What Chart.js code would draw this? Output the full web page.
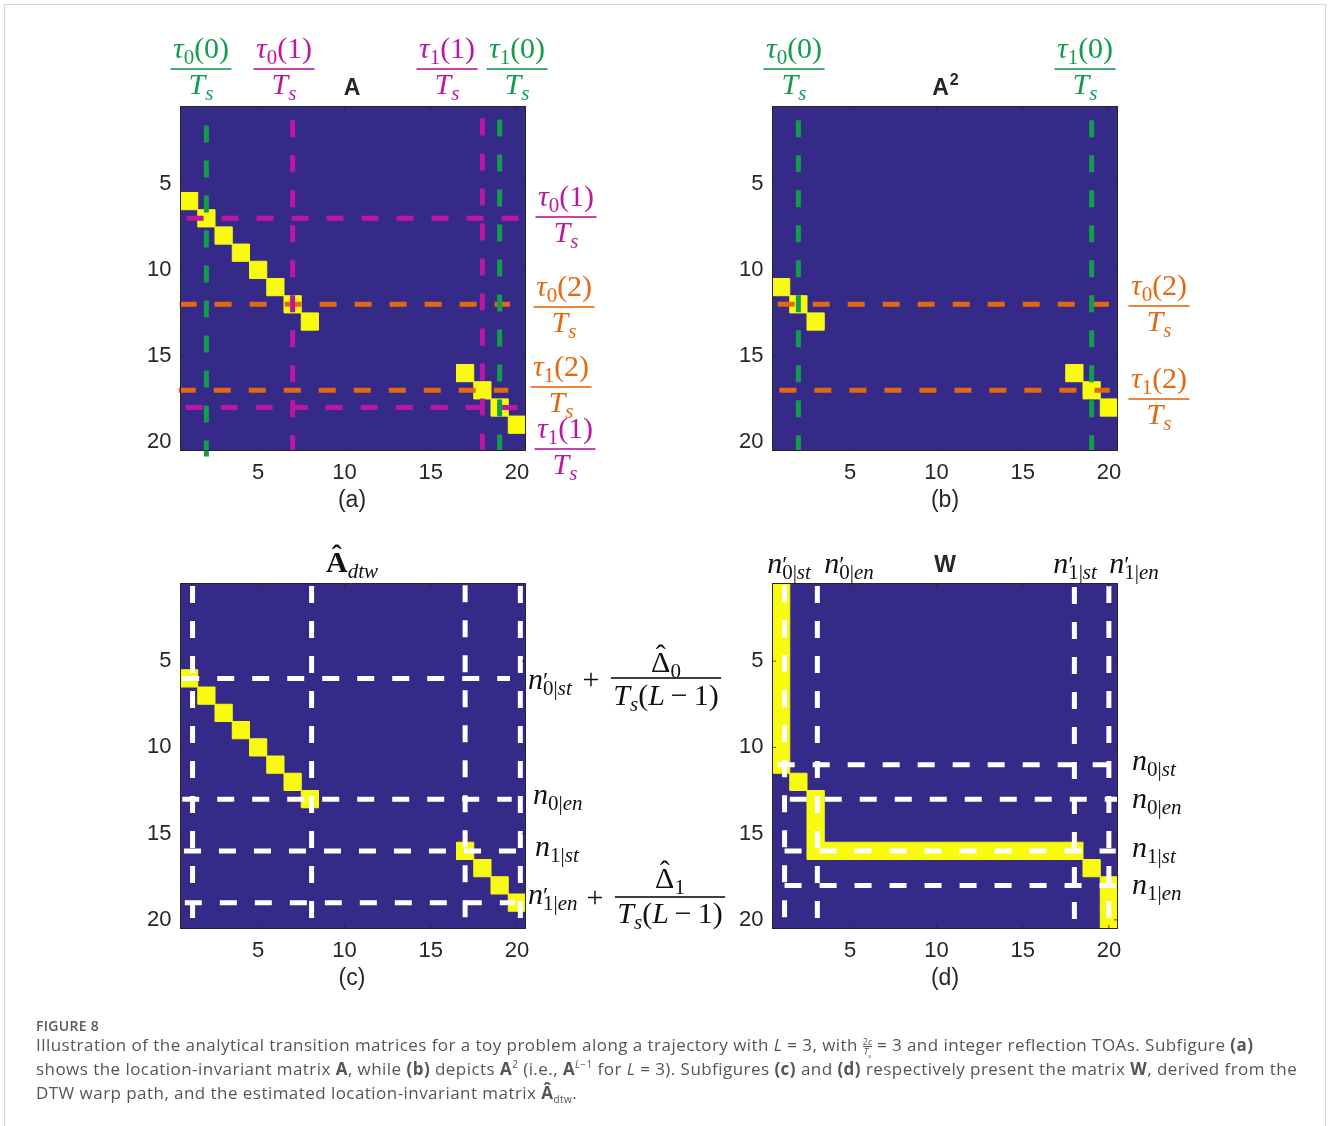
<!DOCTYPE html>
<html>
<head>
<meta charset="utf-8">
<script src="https://cdn.jsdelivr.net/npm/chart.js@4.4.1/dist/chart.umd.min.js"></script>
<style>
html, body { margin: 0; padding: 0; background: #fff; }
#page { position: relative; width: 1328px; height: 1126px; overflow: hidden; background: #fff; }
#frame { position: absolute; left: 4px; top: 4px; width: 1320px; height: 1140px; border: 1.5px solid #d4d4d4; }
#page canvas { position: absolute; left: 0; top: 0; pointer-events: none; }
#caption { position: absolute; left: 36px; top: 0; font-family: "Open Sans", "Noto Sans", sans-serif; color: #555; white-space: nowrap; }
#caption .fig { position: absolute; top: 1016px; font-size: 14px; font-weight: 600; letter-spacing: 0.3px; color: #5a5a5a; }
#caption .ln { position: absolute; font-size: 17px; line-height: 24px; height: 24px; letter-spacing: 0.45px; }
#caption b { font-weight: 700; }
#caption sup, #caption sub { font-size: 10px; line-height: 0; }
#caption .tf { display: inline-block; vertical-align: middle; font-size: 9px; line-height: 9px; text-align: center; letter-spacing: 0; }
#caption .tf span { display: block; }
#caption .tf span:first-child { border-bottom: 1px solid #555; }
</style>
</head>
<body>
<div id="page">
  <div id="frame"></div>
  <canvas id="chartA" width="1328" height="1126"></canvas>
  <canvas id="chartB" width="1328" height="1126"></canvas>
  <canvas id="chartC" width="1328" height="1126"></canvas>
  <canvas id="chartD" width="1328" height="1126"></canvas>
  <div id="caption">
    <div class="fig">FIGURE 8</div>
    <div class="ln" style="top:1033px">Illustration of the analytical transition matrices for a toy problem along a trajectory with <i>L</i> = 3, with <span class="tf"><span>2<i>c</i></span><span><i>T</i><sub style="font-size:6px">s</sub></span></span> = 3 and integer reflection TOAs. Subfigure <b>(a)</b></div>
    <div class="ln" style="top:1057px">shows the location-invariant matrix <b>A</b>, while <b>(b)</b> depicts <b>A</b><sup>2</sup> (i.e., <b>A</b><sup><i>L</i>−1</sup> for <i>L</i> = 3). Subfigures <b>(c)</b> and <b>(d)</b> respectively present the matrix <b>W</b>, derived from the</div>
    <div class="ln" style="top:1081px">DTW warp path, and the estimated location-invariant matrix <b>Â</b><sub>dtw</sub>.</div>
  </div>
</div>
<script>
"use strict"

const tickValues = [5, 10, 15, 20];
const axisMin = 0.5;
const axisMax = 20.5;

// yellow (value 1) cells as [column, row]
const cellsA = [[1, 6], [2, 7], [3, 8], [4, 9], [5, 10], [6, 11], [7, 12], [8, 13],
    [17, 16], [18, 17], [19, 18], [20, 19]];
const cellsA2 = [[1, 11], [2, 12], [3, 13], [18, 16], [19, 17], [20, 18]];
const cellsAdtw = [[1, 6], [2, 7], [3, 8], [4, 9], [5, 10], [6, 11], [7, 12], [8, 13],
    [17, 16], [18, 17], [19, 18], [20, 19]];
const cellsW = [[1, 1], [1, 2], [1, 3], [1, 4], [1, 5], [1, 6], [1, 7], [1, 8], [1, 9], [1, 10], [1, 11],
    [2, 12], [3, 13], [3, 14], [3, 15], [3, 16],
    [4, 16], [5, 16], [6, 16], [7, 16], [8, 16], [9, 16], [10, 16], [11, 16], [12, 16], [13, 16],
    [14, 16], [15, 16], [16, 16], [17, 16], [18, 16], [19, 17], [20, 18], [20, 19], [20, 20]];

// reflection TOAs in samples, tau_k(l) / Ts for l = 0, 1, 2
const tau0 = [2, 7, 12];
const tau1 = [19, 18, 17];

// DTW markers
const dtwCols = [1.2, 8.1, 17, 20.2];
const dtwRows = [6, 13, 16, 19];
const warpCols = [1.2, 3.1, 18, 20];   // n'0|st, n'0|en, n'1|st, n'1|en
const warpRows = [11, 13, 16, 18];     // n0|st, n0|en, n1|st, n1|en

const NAVY = "#352a87";
const YELLOW = "#f9fb0e";
const GREEN = "#139c4d";
const MAGENTA = "#bb189f";
const ORANGE = "#e5680f";
const WHITE = "#ffffff";
const INK = "#262626";

const SERIF = '"Liberation Serif", "DejaVu Serif", serif';
const SANS = '"Liberation Sans", Arial, sans-serif';
const MS = 30;

// ---------- tiny math typesetter ----------
const isItalic = ch => /[A-Za-zα-ω]/.test(ch);
const mathFont = (ch, size, bold) =>
    `${!bold && isItalic(ch) ? "italic " : ""}${bold ? "bold " : ""}${size}px ${SERIF}`;

function parseMath(src) {
    const atoms = [];
    let i = 0, hat = false, bold = false;
    const group = () => {
        if (src[i] === "{") {
            const j = src.indexOf("}", i);
            const g = src.slice(i + 1, j);
            i = j + 1;
            return g;
        }
        return src[i++];
    };
    while (i < src.length) {
        const c = src[i];
        if (c === " ") { i++; continue; }
        if (c === "^") { hat = true; i++; continue; }
        if (c === "!") { bold = true; i++; continue; }
        if (c === "_") { i++; atoms[atoms.length - 1].sub = group(); continue; }
        if (c === "'") { i++; atoms[atoms.length - 1].prime = true; continue; }
        atoms.push({ base: c, hat: hat, bold: bold });
        hat = false;
        bold = false;
        i++;
    }
    return atoms;
}

function layoutMath(ctx, src, size) {
    const atoms = parseMath(src);
    let x = 0;
    atoms.forEach(a => {
        const op = a.base === "+" || a.base === "−";
        if (op) x += size * 0.2;
        ctx.font = mathFont(a.base, size, a.bold);
        a.x = x;
        a.w = ctx.measureText(a.base).width;
        x += a.w;
        let extra = 0;
        if (a.prime) {
            ctx.font = `${size * 0.8}px ${SERIF}`;
            extra = ctx.measureText("′").width;
        }
        if (a.sub) {
            let sw = 0;
            for (const ch of a.sub) {
                ctx.font = mathFont(ch, size * 0.7, false);
                sw += ctx.measureText(ch).width;
            }
            extra = Math.max(extra, sw);
        }
        x += extra;
        if (op) x += size * 0.2;
    });
    return { atoms: atoms, width: x };
}

function drawMath(ctx, src, x, y, size, color, align) {
    const m = layoutMath(ctx, src, size);
    const x0 = align === "center" ? x - m.width / 2 : align === "right" ? x - m.width : x;
    ctx.fillStyle = color;
    ctx.textBaseline = "alphabetic";
    m.atoms.forEach(a => {
        ctx.textAlign = "left";
        ctx.font = mathFont(a.base, size, a.bold);
        ctx.fillText(a.base, x0 + a.x, y);
        if (a.hat) {
            ctx.textAlign = "center";
            ctx.font = `${a.bold ? "bold " : ""}${size}px ${SERIF}`;
            ctx.fillText("ˆ", x0 + a.x + a.w / 2, y - size * 0.22);
            ctx.textAlign = "left";
        }
        const ex = x0 + a.x + a.w;
        if (a.prime) {
            ctx.font = `${size * 0.8}px ${SERIF}`;
            ctx.fillText("′", ex, y - size * 0.05);
        }
        if (a.sub) {
            let sx = ex;
            for (const ch of a.sub) {
                ctx.font = mathFont(ch, size * 0.7, false);
                ctx.fillText(ch, sx, y + size * 0.2);
                sx += ctx.measureText(ch).width;
            }
        }
    });
}

function drawFrac(ctx, item) {
    const size = item.size || MS;
    const wn = layoutMath(ctx, item.num, size).width;
    const wd = layoutMath(ctx, item.den, size).width;
    const w = Math.max(wn, wd) + size * 0.16;
    ctx.fillStyle = item.color;
    ctx.fillRect(item.x - w / 2, item.y - 0.8, w, 1.6);
    drawMath(ctx, item.num, item.x, item.y - (item.numDy || size * 0.38), size, item.color, "center");
    drawMath(ctx, item.den, item.x, item.y + (item.denDy || size * 0.84), size, item.color, "center");
}

function drawSans(ctx, item) {
    ctx.fillStyle = item.color || INK;
    ctx.textBaseline = "alphabetic";
    ctx.font = `${item.bold ? "bold " : ""}${item.size}px ${SANS}`;
    const w = ctx.measureText(item.text).width;
    let sw = 0;
    if (item.sup) {
        ctx.font = `bold ${item.size * 0.7}px ${SANS}`;
        sw = ctx.measureText(item.sup).width;
    }
    const x0 = item.x - (w + sw) / 2;
    ctx.textAlign = "left";
    ctx.font = `${item.bold ? "bold " : ""}${item.size}px ${SANS}`;
    ctx.fillText(item.text, x0, item.y);
    if (item.sup) {
        ctx.font = `bold ${item.size * 0.7}px ${SANS}`;
        ctx.fillText(item.sup, x0 + w + 1, item.y - item.size * 0.45);
    }
}

function drawLabel(ctx, item) {
    if (item.kind === "frac") drawFrac(ctx, item);
    else if (item.kind === "sans") drawSans(ctx, item);
    else drawMath(ctx, item.src, item.x, item.y, item.size || MS, item.color || "#111", item.align || "left");
}

// ---------- panel ----------
const decoPlugin = labels => ({
    id: "panelDeco",
    beforeDatasetsDraw(chart) {
        const a = chart.chartArea;
        const ctx = chart.ctx;
        ctx.save();
        ctx.fillStyle = NAVY;
        ctx.fillRect(a.left, a.top, a.right - a.left, a.bottom - a.top);
        ctx.restore();
    },
    afterDatasetsDraw(chart) {
        const a = chart.chartArea;
        const ctx = chart.ctx;
        const sx = chart.scales.x, sy = chart.scales.y;
        ctx.save();
        ctx.strokeStyle = INK;
        ctx.lineWidth = 0.8;
        ctx.beginPath();
        tickValues.forEach(v => {
            const px = sx.getPixelForValue(v), py = sy.getPixelForValue(v);
            ctx.moveTo(px, a.bottom); ctx.lineTo(px, a.bottom - 3.5);
            ctx.moveTo(px, a.top); ctx.lineTo(px, a.top + 3.5);
            ctx.moveTo(a.left, py); ctx.lineTo(a.left + 3.5, py);
            ctx.moveTo(a.right, py); ctx.lineTo(a.right - 3.5, py);
        });
        ctx.stroke();
        ctx.lineWidth = 1;
        ctx.strokeRect(a.left, a.top, a.right - a.left, a.bottom - a.top);
        ctx.restore();
    },
    afterDraw(chart) {
        const ctx = chart.ctx;
        ctx.save();
        labels.forEach(item => drawLabel(ctx, item));
        ctx.restore();
    }
});

const Y_AXIS_W = 60;
const X_AXIS_H = 50;

function cellRadius(ctx) {
    const sx = ctx.chart.scales.x;
    return Math.abs(sx.getPixelForValue(1) - sx.getPixelForValue(0)) / Math.SQRT2;
}

function makePanel(id, area, cells, guides, labels) {
    const datasets = guides.map(g => ({
        data: g.v
            ? [{ x: g.at, y: g.from }, { x: g.at, y: g.to }]
            : [{ x: g.from, y: g.at }, { x: g.to, y: g.at }],
        showLine: true,
        borderColor: g.color,
        borderWidth: 5,
        borderDash: [17, 18],
        borderCapStyle: "butt",
        pointRadius: 0,
        pointHoverRadius: 0,
        clip: false,
        order: 0
    }));
    datasets.push({
        data: cells.map(c => ({ x: c[0], y: c[1] })),
        pointStyle: "rect",
        pointRadius: cellRadius,
        pointHoverRadius: cellRadius,
        backgroundColor: YELLOW,
        borderColor: YELLOW,
        borderWidth: 1,
        order: 1
    });

    const tickOpts = {
        font: { family: "Liberation Sans", size: 22 },
        color: INK,
        padding: 9,
        maxRotation: 0,
        autoSkip: false
    };

    new Chart(document.getElementById(id), {
        type: "scatter",
        data: { datasets: datasets },
        options: {
            responsive: false,
            animation: false,
            devicePixelRatio: 1,
            events: [],
            layout: {
                padding: {
                    left: area.left - Y_AXIS_W,
                    top: area.top,
                    right: 1328 - area.right,
                    bottom: 1126 - area.bottom - X_AXIS_H
                }
            },
            plugins: { legend: { display: false }, tooltip: { enabled: false } },
            scales: {
                x: {
                    type: "linear", min: axisMin, max: axisMax,
                    afterBuildTicks: s => { s.ticks = tickValues.map(v => ({ value: v })); },
                    afterFit: s => { s.height = X_AXIS_H; },
                    grid: { display: false, drawTicks: false },
                    border: { display: false },
                    ticks: tickOpts
                },
                y: {
                    type: "linear", min: axisMin, max: axisMax, reverse: true,
                    afterBuildTicks: s => { s.ticks = tickValues.map(v => ({ value: v })); },
                    afterFit: s => { s.width = Y_AXIS_W; },
                    grid: { display: false, drawTicks: false },
                    border: { display: false },
                    ticks: tickOpts
                }
            }
        },
        plugins: [decoPlugin(labels)]
    });
}

// ---------- panel (a): A ----------
makePanel("chartA", { left: 180.5, top: 106.5, right: 525.5, bottom: 450.5 }, cellsA, [
    { v: true, at: tau0[0], from: 1.6, to: 20.85, color: GREEN },
    { v: true, at: tau1[0], from: 1.25, to: 20.5, color: GREEN },
    { v: true, at: tau0[1], from: 1.3, to: 20.5, color: MAGENTA },
    { v: true, at: tau1[1], from: 1.2, to: 20.45, color: MAGENTA },
    { v: false, at: tau0[1], from: 0.85, to: 20.1, color: MAGENTA },
    { v: false, at: tau1[1], from: 0.8, to: 20.3, color: MAGENTA },
    { v: false, at: tau0[2], from: 0.45, to: 19.6, color: ORANGE },
    { v: false, at: tau1[2], from: 0.4, to: 19.5, color: ORANGE }
], [
    { kind: "frac", num: "τ_0(0)", den: "T_s", x: 201, y: 69, color: GREEN },
    { kind: "frac", num: "τ_0(1)", den: "T_s", x: 284, y: 69, color: MAGENTA },
    { kind: "frac", num: "τ_1(1)", den: "T_s", x: 447, y: 69, color: MAGENTA },
    { kind: "frac", num: "τ_1(0)", den: "T_s", x: 517, y: 69, color: GREEN },
    { kind: "sans", text: "A", bold: true, size: 23, x: 352, y: 95 },
    { kind: "frac", num: "τ_0(1)", den: "T_s", x: 566, y: 217, color: MAGENTA },
    { kind: "frac", num: "τ_0(2)", den: "T_s", x: 564, y: 307, color: ORANGE },
    { kind: "frac", num: "τ_1(2)", den: "T_s", x: 561, y: 387, color: ORANGE },
    { kind: "frac", num: "τ_1(1)", den: "T_s", x: 565, y: 449, color: MAGENTA },
    { kind: "sans", text: "(a)", size: 23, x: 352, y: 507 }
]);

// ---------- panel (b): A^2 ----------
makePanel("chartB", { left: 772.5, top: 106.5, right: 1117.5, bottom: 450.5 }, cellsA2, [
    { v: true, at: tau0[0], from: 1.3, to: 20.5, color: GREEN },
    { v: true, at: tau1[0], from: 1.3, to: 20.5, color: GREEN },
    { v: false, at: tau0[2], from: 0.8, to: 20, color: ORANGE },
    { v: false, at: tau1[2], from: 0.9, to: 20.05, color: ORANGE }
], [
    { kind: "frac", num: "τ_0(0)", den: "T_s", x: 794, y: 69, color: GREEN },
    { kind: "frac", num: "τ_1(0)", den: "T_s", x: 1085, y: 69, color: GREEN },
    { kind: "sans", text: "A", sup: "2", bold: true, size: 23, x: 945, y: 95 },
    { kind: "frac", num: "τ_0(2)", den: "T_s", x: 1159, y: 306, color: ORANGE },
    { kind: "frac", num: "τ_1(2)", den: "T_s", x: 1159, y: 399, color: ORANGE },
    { kind: "sans", text: "(b)", size: 23, x: 945, y: 507 }
]);

// ---------- panel (c): A_dtw ----------
makePanel("chartC", { left: 180.5, top: 583.5, right: 525.5, bottom: 928.5 }, cellsAdtw, [
    { v: true, at: dtwCols[0], from: 0.65, to: 20.4, color: WHITE },
    { v: true, at: dtwCols[1], from: 0.65, to: 20.5, color: WHITE },
    { v: true, at: dtwCols[2], from: 0.6, to: 19.9, color: WHITE },
    { v: true, at: dtwCols[3], from: 0.65, to: 20.5, color: WHITE },
    { v: false, at: dtwRows[0], from: 0.6, to: 19.6, color: WHITE },
    { v: false, at: dtwRows[1], from: 0.6, to: 19.7, color: WHITE },
    { v: false, at: dtwRows[2], from: 0.7, to: 20.0, color: WHITE },
    { v: false, at: dtwRows[3], from: 0.75, to: 19.9, color: WHITE }
], [
    { kind: "math", src: "^!A_{dtw}", x: 352, y: 572, align: "center" },
    { kind: "math", src: "n'_{0|st}", x: 528, y: 689 },
    { kind: "math", src: "+", x: 591, y: 689, align: "center" },
    { kind: "frac", num: "^Δ_0", den: "T_s(L − 1)", x: 666, y: 678, color: "#111", numDy: 6, denDy: 27 },
    { kind: "math", src: "n_{0|en}", x: 533, y: 804 },
    { kind: "math", src: "n_{1|st}", x: 535, y: 856 },
    { kind: "math", src: "n'_{1|en}", x: 528, y: 904 },
    { kind: "math", src: "+", x: 595, y: 907, align: "center" },
    { kind: "frac", num: "^Δ_1", den: "T_s(L − 1)", x: 670, y: 897, color: "#111", numDy: 9, denDy: 26 },
    { kind: "sans", text: "(c)", size: 23, x: 352, y: 985 }
]);

// ---------- panel (d): W ----------
makePanel("chartD", { left: 772.5, top: 583.5, right: 1117.5, bottom: 928.5 }, cellsW, [
    { v: true, at: warpCols[0], from: 0.6, to: 20.5, color: WHITE },
    { v: true, at: warpCols[1], from: 0.65, to: 20.5, color: WHITE },
    { v: true, at: warpCols[2], from: 0.7, to: 20.1, color: WHITE },
    { v: true, at: warpCols[3], from: 0.65, to: 20.5, color: WHITE },
    { v: false, at: warpRows[0], from: 0.8, to: 20.1, color: WHITE },
    { v: false, at: warpRows[1], from: 1.5, to: 20.6, color: WHITE },
    { v: false, at: warpRows[2], from: 1.2, to: 20.4, color: WHITE },
    { v: false, at: warpRows[3], from: 1.2, to: 20.4, color: WHITE }
], [
    { kind: "sans", text: "W", bold: true, size: 23, x: 945, y: 572 },
    { kind: "math", src: "n'_{0|st}", x: 789, y: 573, align: "center" },
    { kind: "math", src: "n'_{0|en}", x: 849, y: 573, align: "center" },
    { kind: "math", src: "n'_{1|st}", x: 1075, y: 573, align: "center" },
    { kind: "math", src: "n'_{1|en}", x: 1134, y: 573, align: "center" },
    { kind: "math", src: "n_{0|st}", x: 1132, y: 770 },
    { kind: "math", src: "n_{0|en}", x: 1132, y: 808 },
    { kind: "math", src: "n_{1|st}", x: 1132, y: 857 },
    { kind: "math", src: "n_{1|en}", x: 1132, y: 894 },
    { kind: "sans", text: "(d)", size: 23, x: 945, y: 985 }
]);
</script>
</body>
</html>
